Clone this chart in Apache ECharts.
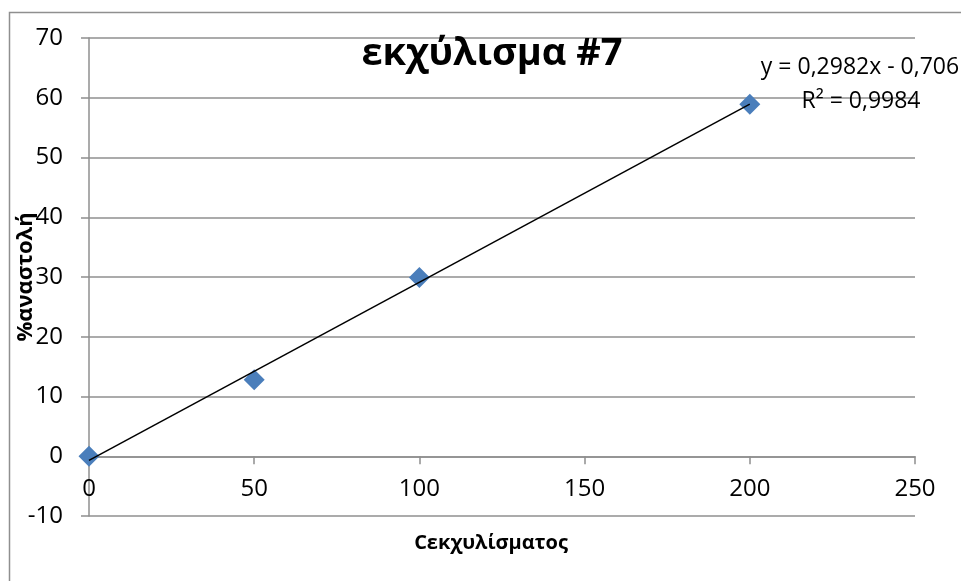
<!DOCTYPE html>
<html>
<head>
<meta charset="utf-8">
<script src="https://cdn.jsdelivr.net/npm/echarts@6/dist/echarts.min.js"></script>
<style>
html,body{margin:0;padding:0;background:#fff;overflow:hidden;}
#chart{width:961px;height:581px;}
</style>
</head>
<body>
<div id="chart"></div>
<script>
const titleText = 'εκχύλισμα #7';
const xAxisName = 'Cεκχυλίσματος';
const yAxisName = '%αναστολή';
const xValues = [0, 50, 100, 200];
const yValues = [0, 12.8, 29.9, 58.9];
const equationLines = ['y = 0,2982x - 0,706', 'R² = 0,9984'];
const xTicks = {min: 0, max: 250, interval: 50};
const yTicks = {min: -10, max: 70, interval: 10};

// least squares trendline from the data
const n = xValues.length;
const mx = xValues.reduce((a, b) => a + b, 0) / n;
const my = yValues.reduce((a, b) => a + b, 0) / n;
let sxy = 0, sxx = 0;
for (let i = 0; i < n; i++) { sxy += (xValues[i] - mx) * (yValues[i] - my); sxx += (xValues[i] - mx) ** 2; }
const slope = sxy / sxx;
const intercept = my - slope * mx;
const xLo = Math.min(...xValues), xHi = Math.max(...xValues);
const trend = [[xLo, slope * xLo + intercept], [xHi, slope * xHi + intercept]];

const FONT = '"Open Sans", sans-serif';
const GRID = '#8f8f8f';

const chart = echarts.init(document.getElementById('chart'), null, {renderer: 'canvas'});
chart.setOption({
  animation: false,
  backgroundColor: '#fff',
  grid: [
    {left: 89, right: 46, top: 38, bottom: 65, containLabel: false, outerBoundsMode: 'none'},
    // helper grid whose bottom edge sits on the y = 0 line, used for the x labels and name
    {left: 89, right: 46, top: 38, bottom: 125, containLabel: false, outerBoundsMode: 'none'}
  ],
  title: [
    {text: titleText, left: 487, top: 30, textAlign: 'center',
     textStyle: {fontFamily: FONT, fontWeight: 'bold', fontSize: 38, color: '#000'}},
    {text: equationLines[0], left: 855, top: 51, textAlign: 'center',
     textStyle: {fontFamily: FONT, fontWeight: 'normal', fontSize: 23, color: '#000'}},
    {text: equationLines[1], left: 856, top: 85, textAlign: 'center',
     textStyle: {fontFamily: FONT, fontWeight: 'normal', fontSize: 23, color: '#000'}}
  ],
  graphic: [
    {type: 'rect', left: 7, top: 10, shape: {width: 1000, height: 600}, silent: true, z: -1,
     style: {fill: 'none', stroke: GRID, lineWidth: 1.5}}
  ],
  xAxis: [
    {
      type: 'value', gridIndex: 0, min: xTicks.min, max: xTicks.max, interval: xTicks.interval,
      axisLine: {show: true, onZero: true, lineStyle: {color: GRID, width: 1.5}},
      axisTick: {show: true, length: 8, inside: false, lineStyle: {color: GRID, width: 1.5}},
      axisLabel: {show: false},
      splitLine: {show: false}
    },
    {
      type: 'value', gridIndex: 1, min: xTicks.min, max: xTicks.max, interval: xTicks.interval,
      name: xAxisName, nameLocation: 'middle', nameGap: 77, nameMoveOverlap: false,
      nameTextStyle: {fontFamily: FONT, fontWeight: 'bold', fontSize: 20, color: '#000', padding: [0, 22, 0, 0]},
      axisLine: {show: false, onZero: false},
      axisTick: {show: false},
      axisLabel: {fontFamily: FONT, fontSize: 24, color: '#000', margin: 21},
      splitLine: {show: false}
    }
  ],
  yAxis: [
    {
      type: 'value', gridIndex: 0, min: yTicks.min, max: yTicks.max, interval: yTicks.interval,
      name: yAxisName, nameLocation: 'middle', nameGap: 52, nameRotate: 90, nameMoveOverlap: false,
      nameTextStyle: {fontFamily: FONT, fontWeight: 'bold', fontSize: 22, color: '#000'},
      axisLine: {show: true, onZero: true, lineStyle: {color: GRID, width: 1.5}},
      axisTick: {show: true, length: 8, inside: false, lineStyle: {color: GRID, width: 1.5}},
      axisLabel: {fontFamily: FONT, fontSize: 24, color: '#000', margin: 26},
      splitLine: {show: true, lineStyle: {color: GRID, width: 1.5}}
    },
    {type: 'value', gridIndex: 1, show: false, min: 0, max: 1}
  ],
  series: [
    {type: 'line', xAxisIndex: 0, yAxisIndex: 0, data: trend, symbol: 'none', z: 3,
     lineStyle: {color: '#000', width: 1.5}, silent: true},
    {type: 'scatter', xAxisIndex: 0, yAxisIndex: 0, data: xValues.map((x, i) => [x, yValues[i]]),
     symbol: 'diamond', symbolSize: 21, z: 2,
     itemStyle: {color: '#4a7ebb', opacity: 1}}
  ]
});
</script>
</body>
</html>
